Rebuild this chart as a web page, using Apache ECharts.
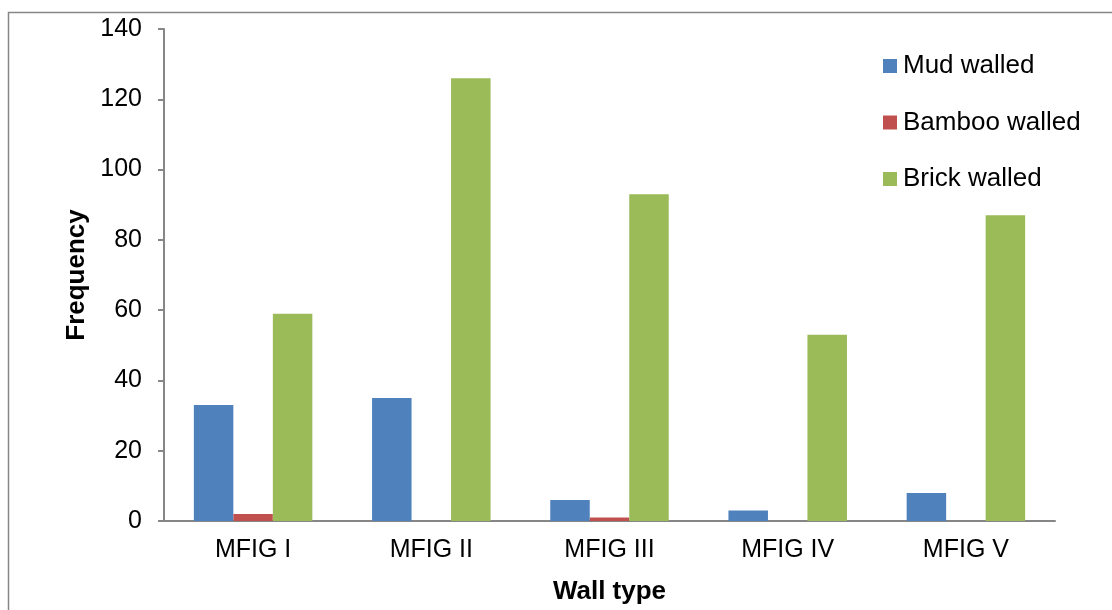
<!DOCTYPE html>
<html>
<head>
<meta charset="utf-8">
<script src="https://cdn.jsdelivr.net/npm/echarts@6/dist/echarts.min.js"></script>
<style>
  html, body { margin: 0; padding: 0; background: #fff; }
  #chart { width: 1112px; height: 610px; }
</style>
</head>
<body>
<div id="chart"></div>
<script>
// Wall type frequency per MFIG group
const categories = ['MFIG I', 'MFIG II', 'MFIG III', 'MFIG IV', 'MFIG V'];
const mudWalled = [33, 35, 6, 3, 8];
const bambooWalled = [2, 0, 1, 0, 0];
const brickWalled = [59, 126, 93, 53, 87];
const seriesNames = ['Mud walled', 'Bamboo walled', 'Brick walled'];
const yTicks = { min: 0, max: 140, interval: 20 };

const font = '"Liberation Sans", Arial, sans-serif';
const axisGray = '#868686';

const chart = echarts.init(document.getElementById('chart'), null, { renderer: 'canvas' });

chart.setOption({
  animation: false,
  textStyle: { fontFamily: font, color: '#000' },
  // outer frame around the chart area
  graphic: [{
    type: 'rect',
    shape: { x: 8.5, y: 12.5, width: 1200, height: 700 },
    style: { fill: 'none', stroke: axisGray, lineWidth: 1.5 },
    silent: true
  }],
  grid: { left: 164, width: 891, top: 29, height: 494, containLabel: false },
  legend: {
    orient: 'vertical',
    left: 878,
    top: 48,
    itemWidth: 14,
    itemHeight: 14,
    itemGap: 30.5,
    icon: 'rect',
    textStyle: { fontFamily: font, fontSize: 26, color: '#000', lineHeight: 26, padding: [0, 0, 0, 1] },
    data: seriesNames
  },
  xAxis: {
    type: 'category',
    data: categories,
    name: 'Wall type',
    nameLocation: 'middle',
    nameGap: 58,
    nameTextStyle: { fontFamily: font, fontSize: 26, fontWeight: 'bold', color: '#000' },
    axisLine: { lineStyle: { color: axisGray, width: 2 } },
    axisTick: { show: false },
    axisLabel: { fontFamily: font, fontSize: 25, color: '#000', margin: 17 }
  },
  yAxis: {
    type: 'value',
    min: yTicks.min,
    max: yTicks.max,
    interval: yTicks.interval,
    name: 'Frequency',
    nameLocation: 'middle',
    nameGap: 74,
    nameRotate: 90,
    nameTextStyle: { fontFamily: font, fontSize: 26, fontWeight: 'bold', color: '#000' },
    axisLine: { show: true, lineStyle: { color: axisGray, width: 2 } },
    axisTick: { show: true, length: 6, lineStyle: { color: axisGray, width: 2 } },
    axisLabel: { fontFamily: font, fontSize: 25, color: '#000', margin: 22 },
    splitLine: { show: false }
  },
  series: [
    { name: seriesNames[0], type: 'bar', data: mudWalled, itemStyle: { color: '#4F81BD' }, barGap: '0%', barCategoryGap: '33.5%' },
    { name: seriesNames[1], type: 'bar', data: bambooWalled, itemStyle: { color: '#C0504D' }, barGap: '0%', barCategoryGap: '33.5%' },
    { name: seriesNames[2], type: 'bar', data: brickWalled, itemStyle: { color: '#9BBB59' }, barGap: '0%', barCategoryGap: '33.5%' }
  ]
});
</script>
</body>
</html>
